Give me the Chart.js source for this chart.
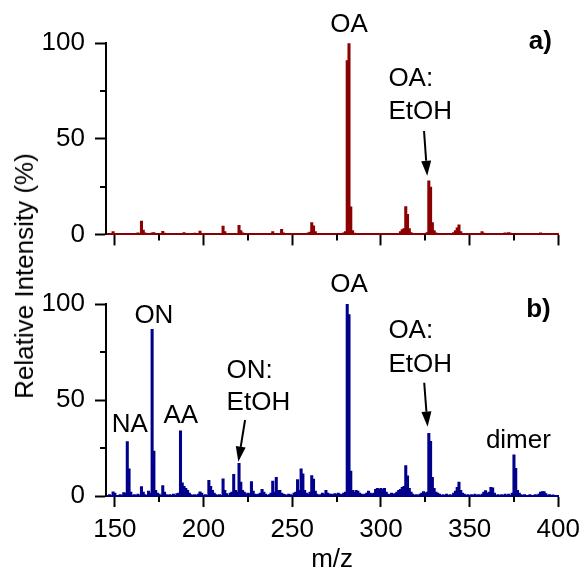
<!DOCTYPE html>
<html><head><meta charset="utf-8">
<script src="https://cdn.jsdelivr.net/npm/chart.js@4"></script>
<style>
html,body{margin:0;padding:0;background:#fff;overflow:hidden}
#wrap{position:relative;width:587px;height:569px;background:#fff}
#cA{position:absolute;left:0;top:0}
#cB{position:absolute;left:0;top:255px}
#ytitle{position:absolute;left:24px;top:276px;transform:translate(-50%,-50%) rotate(-90deg);font:26px "Liberation Sans",Arial,sans-serif;white-space:nowrap;line-height:1;color:#000}
</style></head><body>
<div id="wrap">
<canvas id="cA" width="587" height="260"></canvas>
<canvas id="cB" width="587" height="314"></canvas>
<div id="ytitle">Relative Intensity (%)</div>
</div>
<script>
// ---- tick labels ----
const xTickValues = [150, 200, 250, 300, 350, 400];
const xMinorTicks = [175, 225, 275, 325, 375];
const yTickValues = [0, 50, 100];
const yMinorTicks = [25, 75];

// ---- panel a) spectrum ----
const mzA = [149,152,158,163,165,166,167,171,172,177,178,183,189,190,195,198,199,205,211,212,215,220,221,222,227,233,239,240,244,245,253,259,260,261,262,263,264,270,276,279,280,281,282,283,284,285,290,295,300,305,311,312,313,314,315,316,317,325,326,327,328,329,330,331,335,341,342,343,344,345,350,357,358,362,370,372,373,378,383,390,395];
const intA = [1.5,0.5,0.6,0.8,7.0,2.2,0.8,0.8,1.0,1.6,0.7,0.6,1.0,0.6,0.7,1.8,0.6,0.5,4.3,1.5,0.6,4.7,2.0,0.8,0.6,0.6,1.5,0.6,2.6,0.8,0.6,0.8,1.2,6.2,4.5,1.5,0.6,0.5,0.5,0.8,1.5,91,100,14.4,2.0,0.7,0.5,0.6,0.5,0.6,1.5,2.5,3.0,14.5,10.5,3.0,1.0,0.6,1.0,28,24.7,6.2,2.0,0.8,0.5,1.0,2.0,3.5,5.0,1.5,0.5,1.5,0.7,0.5,0.8,1.0,0.7,0.5,0.5,0.8,0.5];

// ---- panel b) spectrum ----
const mzB = [147,149,150,153,155,156,157,158,159,161,163,165,166,167,169,170,171,172,173,174,175,177,178,179,181,183,185,186,187,188,189,190,191,192,193,195,197,198,199,201,203,204,205,206,207,209,211,212,213,215,216,217,218,219,220,221,222,223,224,225,226,227,228,229,230,231,232,233,234,235,237,238,239,240,241,242,243,244,245,246,248,249,251,252,253,254,255,256,257,258,259,260,261,262,263,264,266,267,268,269,270,271,272,273,274,275,276,277,278,279,280,281,282,283,284,285,286,287,288,289,290,291,292,293,294,295,296,297,298,299,300,301,302,303,304,305,306,307,308,309,310,311,312,313,314,315,316,317,318,320,322,323,324,325,326,327,328,329,330,331,332,333,335,337,339,341,342,343,344,345,346,347,349,351,353,355,357,358,359,360,361,362,363,364,366,368,370,372,374,375,376,377,378,379,381,384,387,389,390,391,392,393,395,397];
const intB = [0.8,2.2,1.5,0.8,1.8,1.5,28.3,14.1,2.0,0.8,1.0,4.9,2.0,0.8,2.5,1.5,86.8,23.4,3.0,1.5,1.0,5.4,2.0,0.8,0.8,1.0,1.2,1.5,34.0,6.9,5.0,4.0,3.0,1.5,0.8,0.8,1.0,2.2,1.5,0.8,8.2,5.0,3.0,1.5,0.8,0.8,9.0,3.0,1.2,1.5,2.0,11.3,3.0,2.0,17.0,7.3,3.0,2.0,1.0,1.5,1.2,7.5,2.5,1.0,0.8,1.0,1.5,3.5,2.0,1.0,0.8,1.5,7.8,2.0,9.7,3.0,3.0,1.5,1.0,0.8,1.0,0.8,1.5,2.0,8.5,3.0,14.1,11.5,3.0,1.5,1.0,2.0,10.6,8.8,2.5,1.0,0.8,1.5,1.0,3.0,1.5,1.0,1.0,0.8,1.2,1.0,1.5,1.0,0.8,1.5,2.0,100,94.5,13,3.0,2.0,3.0,2.5,1.5,1.0,0.8,1.0,1.5,2.5,1.5,1.0,1.5,3.5,4.0,3.5,4.0,3.5,4.0,2.0,1.0,0.8,1.5,1.0,1.2,2.0,3.0,3.5,4.5,5.0,15.8,10.5,4.0,2.0,1.0,0.8,1.0,1.5,2.3,1.5,2.0,32.6,28.5,9.7,4.0,2.0,1.5,1.0,0.8,1.0,0.8,1.5,2.5,4.5,7.3,3.0,1.5,1.0,0.8,0.8,1.0,0.8,1.0,2.0,2.8,1.5,2.0,4.5,4.3,1.5,0.8,0.8,1.0,1.0,1.5,21.4,14.4,3.0,1.5,0.8,0.8,0.8,0.8,1.0,2.0,2.3,2.3,1.2,0.8,0.6];

// ---- annotations (data coordinates) ----
const notesA = [
  {text:'OA', x:282, y:106, align:'center'},
  {text:'OA:', x:304.2, y:77.5, align:'left'},
  {text:'EtOH', x:304.2, y:60.6, align:'left'},
  {text:'a)', x:383.4, y:97.2, align:'left', bold:true}
];
const arrowsA = [{x1:324.3, y1:54.1, x2:326.1, y2:30.7}];
const notesB = [
  {text:'OA', x:282, y:106, align:'center'},
  {text:'OA:', x:304.2, y:82.1, align:'left'},
  {text:'EtOH', x:304.2, y:64.7, align:'left'},
  {text:'ON', x:172.0, y:89.9, align:'center'},
  {text:'NA', x:158.4, y:33.5, align:'center'},
  {text:'AA', x:187.2, y:37.9, align:'center'},
  {text:'ON:', x:213.0, y:61.3, align:'left'},
  {text:'EtOH', x:213.0, y:44.8, align:'left'},
  {text:'dimer', x:377.5, y:24.8, align:'center'},
  {text:'b)', x:381.9, y:93.4, align:'left', bold:true}
];
const arrowsB = [
  {x1:324.4, y1:59.0, x2:326.3, y2:36.1},
  {x1:223.4, y1:39.6, x2:219.6, y2:17.9}
];

const FONT = '"Liberation Sans", Arial, sans-serif';

const decor = {
  id: 'decor',
  afterDraw(chart, args, opts) {
    const ctx = chart.ctx, xs = chart.scales.x, ys = chart.scales.y, ca = chart.chartArea;
    ctx.save();
    ctx.strokeStyle = '#000'; ctx.lineWidth = 2;
    xMinorTicks.forEach(v => {
      const px = Math.round(xs.getPixelForValue(v));
      ctx.beginPath(); ctx.moveTo(px, ca.bottom); ctx.lineTo(px, ca.bottom + 6); ctx.stroke();
    });
    yMinorTicks.forEach(v => {
      const py = Math.round(ys.getPixelForValue(v));
      ctx.beginPath(); ctx.moveTo(ca.left, py); ctx.lineTo(ca.left - 6, py); ctx.stroke();
    });
    ctx.fillStyle = '#000';
    ctx.textBaseline = 'alphabetic';
    (opts.notes || []).forEach(t => {
      ctx.font = (t.bold ? 'bold 26px ' : '26px ') + FONT;
      ctx.textAlign = t.align;
      ctx.fillText(t.text, xs.getPixelForValue(t.x), ys.getPixelForValue(t.y));
    });
    (opts.arrows || []).forEach(a => {
      const x1 = xs.getPixelForValue(a.x1), y1 = ys.getPixelForValue(a.y1);
      const x2 = xs.getPixelForValue(a.x2), y2 = ys.getPixelForValue(a.y2);
      const ang = Math.atan2(y2 - y1, x2 - x1), hl = 15, hw = 5;
      const bx = x2 - hl * Math.cos(ang), by = y2 - hl * Math.sin(ang);
      ctx.lineWidth = 2;
      ctx.beginPath(); ctx.moveTo(x1, y1); ctx.lineTo(bx, by); ctx.stroke();
      ctx.beginPath();
      ctx.moveTo(x2, y2);
      ctx.lineTo(bx + hw * Math.sin(ang), by - hw * Math.cos(ang));
      ctx.lineTo(bx - hw * Math.sin(ang), by + hw * Math.cos(ang));
      ctx.closePath(); ctx.fill();
    });
    ctx.restore();
  }
};

function makeChart(id, mz, inten, color, showLabels, padTop, xHeight, notes, arrows) {
  const data = mz.map((m, i) => ({x: m, y: inten[i]}));
  return new Chart(document.getElementById(id), {
    type: 'bar',
    data: {datasets: [{data, backgroundColor: color, borderWidth: 0, barThickness: 2.4}]},
    options: {
      responsive: false, animation: false, devicePixelRatio: 1,
      layout: {padding: {left: 0, right: 28.7, top: padTop, bottom: 0}},
      plugins: {legend: {display: false}, tooltip: {enabled: false}, decor: {notes, arrows}},
      scales: {
        x: {
          type: 'linear', min: 145, max: 400, offset: false,
          afterBuildTicks: s => { s.ticks = xTickValues.map(v => ({value: v})); },
          afterFit: s => { s.height = xHeight; },
          grid: {offset: false, drawOnChartArea: false, drawTicks: true, tickLength: 11, tickColor: '#000', tickWidth: 2},
          border: {display: true, color: color, width: 2},
          ticks: {display: showLabels, color: '#000', font: {size: 26, family: FONT}, padding: 7, maxRotation: 0, autoSkip: false},
          title: {display: showLabels, text: 'm/z', color: '#000', font: {size: 26, family: FONT, lineHeight: 1}, padding: {top: 0, bottom: -4}}
        },
        y: {
          min: 0, max: 100,
          afterBuildTicks: s => { s.ticks = yTickValues.map(v => ({value: v})); },
          afterFit: s => { s.width = 106; },
          grid: {drawOnChartArea: false, drawTicks: true, tickLength: 11, tickColor: '#000', tickWidth: 2},
          border: {display: true, color: '#000', width: 2},
          ticks: {color: '#000', font: {size: 26, family: FONT}, padding: 10}
        }
      }
    },
    plugins: [decor]
  });
}

makeChart('cA', mzA, intA, '#8B0000', false, 43.3, 24, notesA, arrowsA);
makeChart('cB', mzB, intB, '#00008B', true, 49, 73, notesB, arrowsB);
</script>
</body></html>
